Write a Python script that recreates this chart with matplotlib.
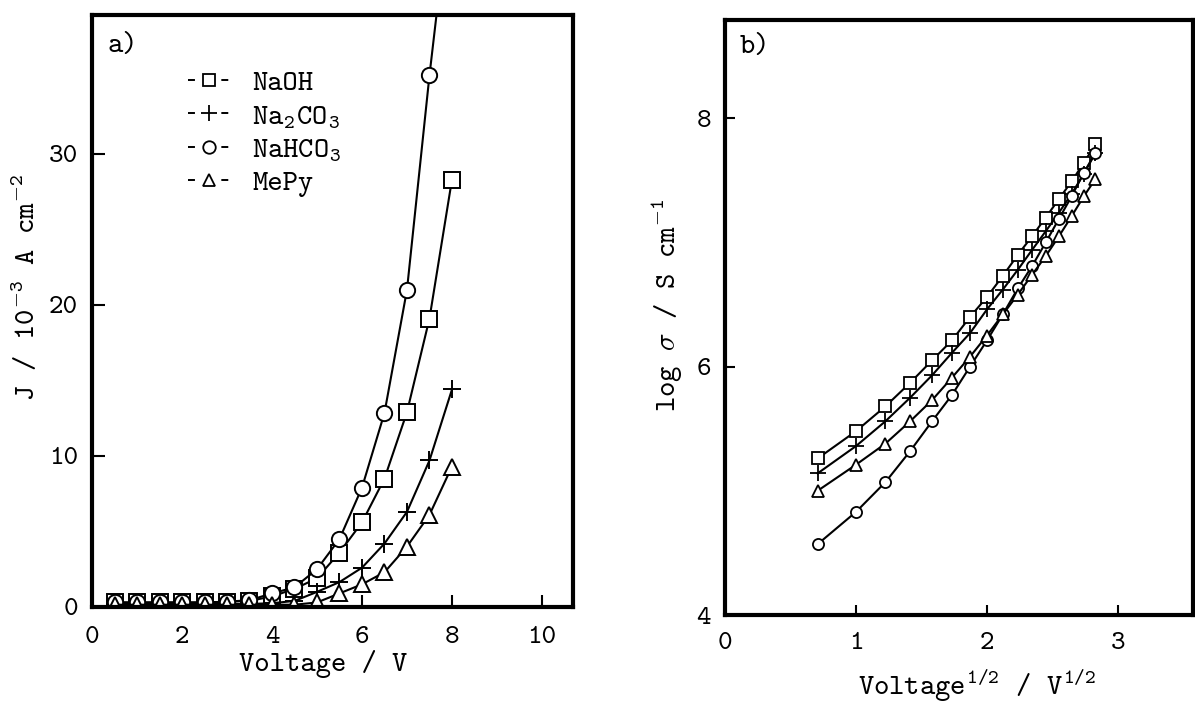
import matplotlib
matplotlib.use('Agg')
import numpy as np
from matplotlib import pyplot as plt
from matplotlib.lines import Line2D

plt.rcParams['font.family'] = ['cmtt10', 'DejaVu Sans']
plt.rcParams['mathtext.fontset'] = 'custom'
plt.rcParams['mathtext.rm'] = 'cmtt10'
plt.rcParams['mathtext.it'] = 'cmtt10'
plt.rcParams['mathtext.bf'] = 'cmtt10'
plt.rcParams['axes.unicode_minus'] = False
plt.rcParams['lines.scale_dashes'] = False

# panel a: J-V curves
voltage = [0.5, 1.0, 1.5, 2.0, 2.5, 3.0, 3.5, 4.0, 4.5, 5.0, 5.5, 6.0, 6.5, 7.0, 7.5, 8.0]
j_naoh = [0.3, 0.3, 0.3, 0.3, 0.3, 0.35, 0.4, 0.7, 1.2, 1.9, 3.6, 5.6, 8.5, 12.9, 19.1, 28.3]
j_na2co3 = [0.2, 0.2, 0.2, 0.2, 0.2, 0.2, 0.2, 0.25, 0.4, 1.0, 1.65, 2.6, 4.2, 6.3, 9.7, 14.4]
j_nahco3 = [0.3, 0.3, 0.3, 0.3, 0.3, 0.35, 0.45, 0.9, 1.3, 2.5, 4.5, 7.9, 12.85, 21.0, 35.2, 48.0]
j_mepy = [0.15, 0.15, 0.15, 0.15, 0.15, 0.15, 0.15, 0.15, 0.15, 0.3, 0.9, 1.5, 2.3, 4.0, 6.1, 9.3]

# panel b: log conductivity vs sqrt(V)
sqrt_v = [0.707, 1.0, 1.225, 1.414, 1.581, 1.732, 1.871, 2.0,
          2.121, 2.236, 2.345, 2.449, 2.55, 2.646, 2.739, 2.828]
log_naoh = [5.26, 5.48, 5.68, 5.87, 6.05, 6.21, 6.40, 6.56,
            6.73, 6.90, 7.05, 7.20, 7.35, 7.49, 7.64, 7.79]
log_na2co3 = [5.14, 5.36, 5.56, 5.75, 5.93, 6.11, 6.27, 6.46,
              6.62, 6.78, 6.94, 7.09, 7.24, 7.39, 7.55, 7.72]
log_nahco3 = [4.57, 4.83, 5.07, 5.32, 5.56, 5.77, 6.00, 6.21,
              6.42, 6.63, 6.81, 7.00, 7.19, 7.37, 7.56, 7.72]
log_mepy = [5.00, 5.21, 5.38, 5.56, 5.73, 5.91, 6.08, 6.25,
            6.42, 6.58, 6.74, 6.89, 7.05, 7.21, 7.37, 7.51]

labels = ['NaOH', 'Na$_2$CO$_3$', 'NaHCO$_3$', 'MePy']
markers = ['s', '+', 'o', '^']

FS = 21
TICK_FS = 20

fig = plt.figure(figsize=(11.95, 7.04), dpi=100)
ax1 = fig.add_axes([0.077, 0.1378, 0.4025, 0.841])
ax2 = fig.add_axes([0.6067, 0.1264, 0.3913, 0.8452])


def style_axes(ax, tick_len, xpad):
    for side in ['left', 'right', 'top', 'bottom']:
        ax.spines[side].set_linewidth(3.0)
    ax.tick_params(direction='in', length=tick_len, width=1.5,
                   labelsize=TICK_FS)
    ax.tick_params(axis='x', pad=xpad)
    ax.tick_params(axis='y', pad=10)


# panel a
series_a = [j_naoh, j_na2co3, j_nahco3, j_mepy]
for ys, m in zip(series_a, markers):
    ms = 13 if m == '+' else 11
    ax1.plot(voltage, ys, color='black', lw=1.5, marker=m, ms=ms,
             mfc='white', mec='black', mew=1.4)
ax1.set_xlim(0, 10.69)
ax1.set_ylim(0, 39.2)
ax1.set_xticks([0, 2, 4, 6, 8, 10])
ax1.set_yticks([0, 10, 20, 30])
style_axes(ax1, 9, 14)
ax1.set_xlabel('Voltage / V', fontsize=FS)
ax1.xaxis.set_label_coords(0.48, -0.073)
ax1.set_ylabel('J / 10$^{-3}$ A cm$^{-2}$', fontsize=FS)
ax1.yaxis.set_label_coords(-0.105, 0.54)
ax1.text(0.033, 0.968, 'a)', transform=ax1.transAxes, fontsize=FS,
         ha='left', va='top')

handles = []
for m in markers:
    ms = 12 if m == '+' else 9
    handles.append(Line2D([], [], color='black', lw=1.4, ls=(0, (5, 19)),
                          marker=m, ms=ms, mfc='white', mec='black', mew=1.3))
ax1.legend(handles, labels, loc='upper left', bbox_to_anchor=(0.2, 0.907),
           frameon=False, fontsize=FS, handlelength=1.4, handletextpad=0.8,
           labelspacing=0.2, borderpad=0, borderaxespad=0)

# panel b
series_b = [log_naoh, log_na2co3, log_nahco3, log_mepy]
for ys, m in zip(series_b, markers):
    ms = 11 if m == '+' else 8
    ax2.plot(sqrt_v, ys, color='black', lw=1.5, marker=m, ms=ms,
             mfc='white', mec='black', mew=1.3)
ax2.set_xlim(0, 3.57)
ax2.set_ylim(4, 8.79)
ax2.set_xticks([0, 1, 2, 3])
ax2.set_yticks([4, 6, 8])
style_axes(ax2, 7, 12)
ax2.set_xlabel('Voltage$^{1/2}$ / V$^{1/2}$', fontsize=FS)
ax2.xaxis.set_label_coords(0.54, -0.088)
ax2.set_ylabel(r'log $\sigma$ / S cm$^{-1}$', fontsize=FS)
ax2.yaxis.set_label_coords(-0.085, 0.52)
ax2.text(0.032, 0.975, 'b)', transform=ax2.transAxes, fontsize=FS,
         ha='left', va='top')

fig.savefig('out.png', dpi=100)
